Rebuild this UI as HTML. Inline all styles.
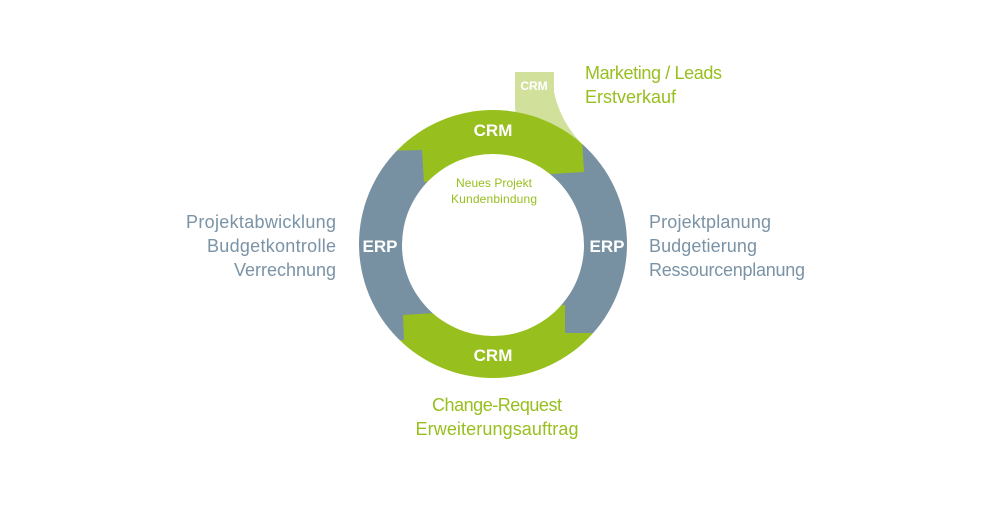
<!DOCTYPE html>
<html><head><style>
body{margin:0;width:1000px;height:500px;background:#fff;overflow:hidden}
svg text{font-family:"Liberation Sans Narrow","Liberation Sans",sans-serif}
</style></head><body>
<svg width="1000" height="500" viewBox="0 0 1000 500">
<defs>
<clipPath id="top"><polygon points="340,60 660,60 660,140 582,140 584,172 424,182 422,150 340,152"/></clipPath>
<clipPath id="bot"><polygon points="340,340 404,340 403,315 565,305 565,333 660,333 660,420 340,420"/></clipPath>
<mask id="ring"><rect width="1000" height="500" fill="#000"/><circle cx="493" cy="244" r="134" fill="#fff"/><circle cx="493" cy="245" r="91" fill="#000"/></mask>
</defs>
<path d="M515,72 L554,72 L554,92 Q560,120 580,142 L540,132 Q515,120 515,108 Z" fill="#d1e19c"/>
<g mask="url(#ring)">
<rect width="1000" height="500" fill="#7891a2"/>
<rect width="1000" height="500" fill="#97bf1e" clip-path="url(#top)"/>
<rect width="1000" height="500" fill="#97bf1e" clip-path="url(#bot)"/>
</g>
<g fill="#fff" font-weight="bold" font-size="17" text-anchor="middle">
<text x="493" y="136">CRM</text>
<text x="493" y="361">CRM</text>
<text x="380" y="252">ERP</text>
<text x="607" y="252">ERP</text>
<text x="534" y="90" font-size="12">CRM</text>
</g>
<g fill="#97bf1e" font-size="12" text-anchor="middle">
<text x="494" y="187" textLength="76">Neues Projekt</text>
<text x="494" y="203" textLength="86">Kundenbindung</text>
</g>
<g fill="#97bf1e" font-size="18">
<text x="585" y="79" textLength="137">Marketing / Leads</text>
<text x="585" y="103" textLength="91">Erstverkauf</text>
<text x="497" y="411" text-anchor="middle" textLength="130">Change-Request</text>
<text x="497" y="435" text-anchor="middle" textLength="163">Erweiterungsauftrag</text>
</g>
<g fill="#7a93a6" font-size="18">
<text x="649" y="228" textLength="122">Projektplanung</text>
<text x="649" y="252" textLength="108">Budgetierung</text>
<text x="649" y="276" textLength="156">Ressourcenplanung</text>
<text x="336" y="228" text-anchor="end" textLength="150">Projektabwicklung</text>
<text x="336" y="252" text-anchor="end" textLength="129">Budgetkontrolle</text>
<text x="336" y="276" text-anchor="end" textLength="102">Verrechnung</text>
</g>
</svg>
</body></html>
